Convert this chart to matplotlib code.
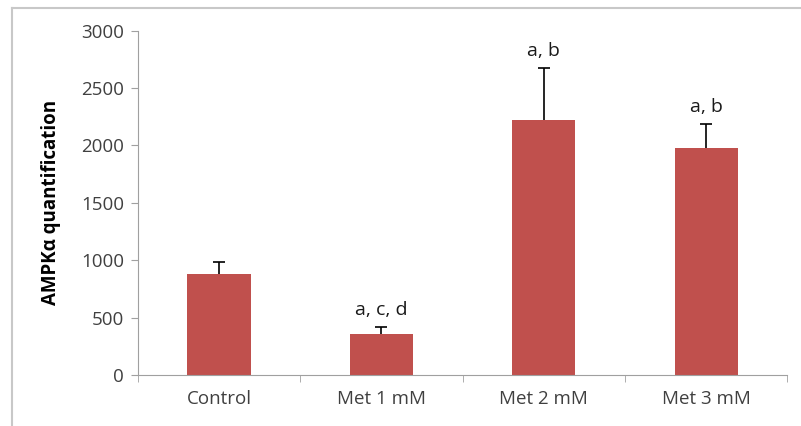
import matplotlib.pyplot as plt
from matplotlib.lines import Line2D

groups = ["Control", "Met 1 mM", "Met 2 mM", "Met 3 mM"]
means = [880, 357, 2222, 1981]
errors = [107, 58, 455, 203]
letters = ["", "a, c, d", "a, b", "a, b"]


def main():
    plt.rcParams['font.family'] = ['Open Sans', 'DejaVu Sans']
    fig = plt.figure(figsize=(8.01, 4.26), dpi=100)
    ax = fig.add_axes([0.172, 0.12, 0.811, 0.808])

    x = list(range(len(groups)))
    ax.bar(x, means, width=0.39, color="#C0504D", zorder=2)
    eb = ax.errorbar(x, means, yerr=[[0] * len(errors), errors], fmt="none",
                     ecolor="black", elinewidth=1.2, capsize=4, capthick=1.2, zorder=3)
    # only the upper cap is drawn
    eb[1][0].set_visible(False)

    # significance letters above the error bars
    for xi, m, e, lab in zip(x, means, errors, letters):
        if lab:
            ax.text(xi, m + e + 70, lab, ha="center", va="bottom", fontsize=14,
                    color="#1a1a1a", fontweight="medium")

    ax.set_xlim(-0.5, 3.5)
    ax.set_ylim(0, 3000)
    ax.set_yticks(range(0, 3001, 500))
    ax.set_xticks(x)
    ax.set_xticklabels(groups, fontsize=13.5, color="#404040")
    ax.set_xticks([-0.5, 0.5, 1.5, 2.5, 3.5], minor=True)
    ax.tick_params(axis="x", which="major", length=0, pad=11)
    ax.tick_params(axis="x", which="minor", length=5, color="#a0a0a0", direction="out")
    ax.tick_params(axis="y", length=5, color="#a0a0a0", labelsize=13.5,
                   labelcolor="#404040", pad=5)
    ax.set_ylabel("AMPKα quantification", fontsize=13.5, fontweight="bold", labelpad=14)

    for s in ["top", "right"]:
        ax.spines[s].set_visible(False)
    for s in ["left", "bottom"]:
        ax.spines[s].set_color("#a0a0a0")

    # light frame around the figure (left and top)
    fig.add_artist(Line2D([0.015, 0.015], [0, 0.982], color="#c8c8c8", lw=1.5))
    fig.add_artist(Line2D([0.015, 1.0], [0.982, 0.982], color="#c8c8c8", lw=1.5))

    fig.savefig("out.png", dpi=100)


main()
